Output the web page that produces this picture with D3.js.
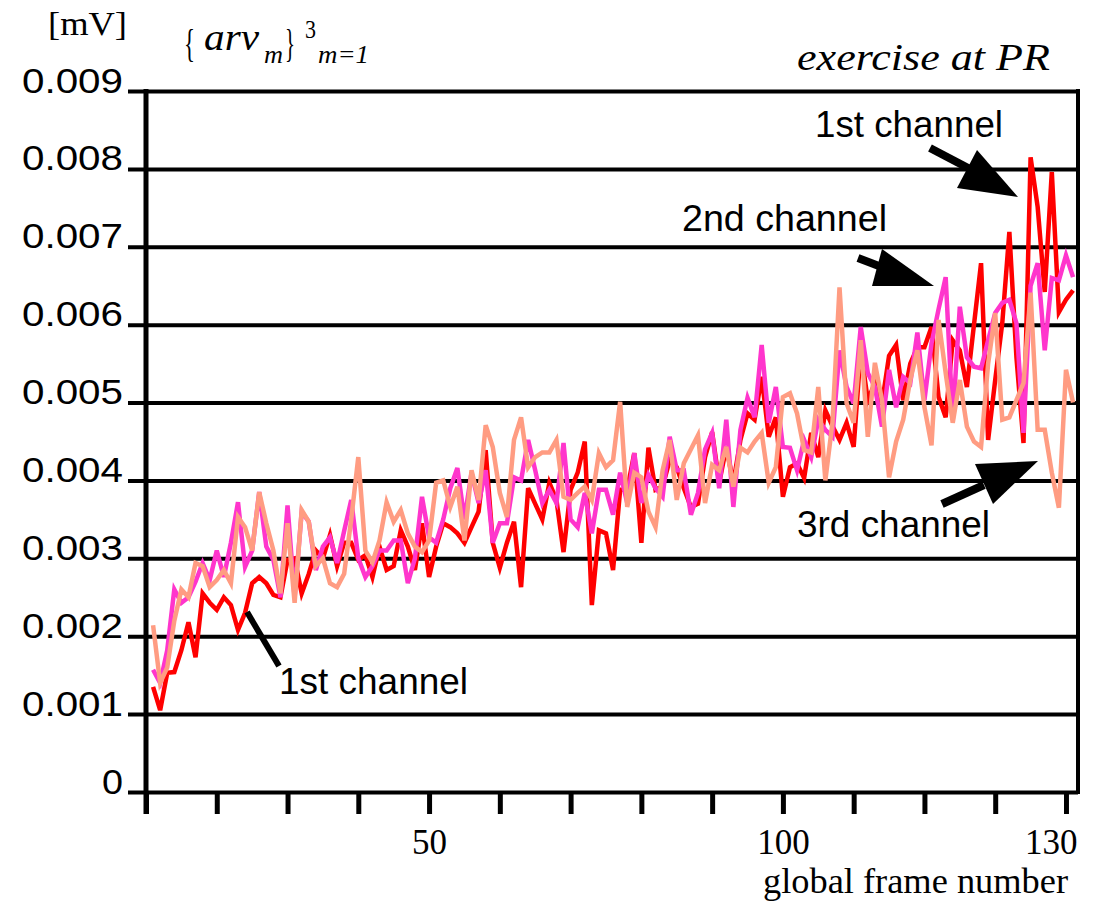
<!DOCTYPE html>
<html>
<head>
<meta charset="utf-8">
<script src="https://cdn.jsdelivr.net/npm/d3@7"></script>
<style>
  body { margin: 0; background: #fff; }
  svg { display: block; }
</style>
</head>
<body>
<div id="chart"></div>
<script>
/* ---------------------------------------------------------------
   data : average rectified value per channel, frames 11..141
---------------------------------------------------------------- */
const frames = d3.range(11, 142)

const ch1 = [
  0.00135, 0.00105, 0.00153, 0.00154, 0.00182, 0.00218, 0.00173, 0.00255, 0.00243, 0.00234,
  0.00250, 0.00240, 0.00208, 0.00230, 0.00268, 0.00276, 0.00268, 0.00253, 0.00250, 0.00298,
  0.00300, 0.00255, 0.00280, 0.00310, 0.00300, 0.00330, 0.00290, 0.00320, 0.00320, 0.00298,
  0.00304, 0.00276, 0.00315, 0.00285, 0.00290, 0.00336, 0.00315, 0.00285, 0.00345, 0.00276,
  0.00315, 0.00345, 0.00340, 0.00332, 0.00320, 0.00340, 0.00360, 0.00439, 0.00320, 0.00288,
  0.00320, 0.00347, 0.00263, 0.00390, 0.00370, 0.00350, 0.00397, 0.00375, 0.00308, 0.00388,
  0.00410, 0.00450, 0.00240, 0.00336, 0.00332, 0.00285, 0.00388, 0.00388, 0.00435, 0.00320,
  0.00442, 0.00388, 0.00392, 0.00426, 0.00417, 0.00390, 0.00366, 0.00370, 0.00430, 0.00462,
  0.00397, 0.00443, 0.00397, 0.00452, 0.00486, 0.00478, 0.00533, 0.00456, 0.00481, 0.00379,
  0.00417, 0.00422, 0.00403, 0.00461, 0.00430, 0.00490, 0.00470, 0.00452, 0.00474, 0.00443,
  0.00567, 0.00503, 0.00525, 0.00499, 0.00560, 0.00574, 0.00503, 0.00550, 0.00571, 0.00571,
  0.00597, 0.00507, 0.00481, 0.00580, 0.00567, 0.00520, 0.00600, 0.00679, 0.00452, 0.00529,
  0.00602, 0.00719, 0.00558, 0.00448, 0.00815, 0.00751, 0.00642, 0.00796, 0.00616, 0.00632,
  0.00644
]

const ch2 = [
  0.00157, 0.00140, 0.00182, 0.00260, 0.00243, 0.00250, 0.00270, 0.00294, 0.00272, 0.00310,
  0.00276, 0.00320, 0.00372, 0.00289, 0.00310, 0.00385, 0.00315, 0.00298, 0.00250, 0.00368,
  0.00250, 0.00360, 0.00347, 0.00285, 0.00315, 0.00327, 0.00294, 0.00335, 0.00375, 0.00300,
  0.00276, 0.00290, 0.00310, 0.00310, 0.00323, 0.00323, 0.00268, 0.00300, 0.00379, 0.00327,
  0.00320, 0.00350, 0.00390, 0.00416, 0.00350, 0.00410, 0.00371, 0.00413, 0.00320, 0.00345,
  0.00345, 0.00404, 0.00400, 0.00452, 0.00413, 0.00371, 0.00388, 0.00371, 0.00448, 0.00350,
  0.00340, 0.00384, 0.00332, 0.00388, 0.00388, 0.00356, 0.00410, 0.00371, 0.00435, 0.00371,
  0.00407, 0.00390, 0.00379, 0.00456, 0.00413, 0.00413, 0.00356, 0.00384, 0.00440, 0.00461,
  0.00390, 0.00478, 0.00366, 0.00465, 0.00506, 0.00481, 0.00574, 0.00474, 0.00520, 0.00443,
  0.00442, 0.00413, 0.00452, 0.00430, 0.00478, 0.00465, 0.00456, 0.00567, 0.00520, 0.00499,
  0.00597, 0.00538, 0.00520, 0.00469, 0.00542, 0.00494, 0.00533, 0.00525, 0.00590, 0.00503,
  0.00576, 0.00620, 0.00661, 0.00478, 0.00623, 0.00558, 0.00546, 0.00544, 0.00580, 0.00615,
  0.00628, 0.00632, 0.00602, 0.00461, 0.00650, 0.00679, 0.00567, 0.00660, 0.00657, 0.00689,
  0.00661
]

const ch3 = [
  0.00214, 0.00140, 0.00160, 0.00220, 0.00260, 0.00250, 0.00294, 0.00290, 0.00263, 0.00272,
  0.00285, 0.00268, 0.00353, 0.00340, 0.00310, 0.00385, 0.00345, 0.00310, 0.00255, 0.00345,
  0.00243, 0.00362, 0.00347, 0.00290, 0.00300, 0.00268, 0.00263, 0.00280, 0.00350, 0.00430,
  0.00310, 0.00295, 0.00323, 0.00372, 0.00347, 0.00362, 0.00332, 0.00315, 0.00308, 0.00323,
  0.00397, 0.00400, 0.00366, 0.00392, 0.00323, 0.00413, 0.00375, 0.00471, 0.00443, 0.00384,
  0.00353, 0.00452, 0.00481, 0.00417, 0.00430, 0.00436, 0.00436, 0.00452, 0.00379, 0.00375,
  0.00384, 0.00392, 0.00375, 0.00435, 0.00417, 0.00426, 0.00501, 0.00366, 0.00410, 0.00404,
  0.00360, 0.00340, 0.00413, 0.00452, 0.00375, 0.00422, 0.00440, 0.00458, 0.00371, 0.00420,
  0.00413, 0.00443, 0.00392, 0.00442, 0.00436, 0.00450, 0.00461, 0.00397, 0.00417, 0.00507,
  0.00512, 0.00486, 0.00439, 0.00436, 0.00520, 0.00400, 0.00474, 0.00648, 0.00499, 0.00474,
  0.00580, 0.00456, 0.00551, 0.00503, 0.00404, 0.00450, 0.00478, 0.00529, 0.00567, 0.00494,
  0.00445, 0.00606, 0.00538, 0.00474, 0.00529, 0.00469, 0.00450, 0.00443, 0.00550, 0.00615,
  0.00478, 0.00481, 0.00503, 0.00525, 0.00641, 0.00465, 0.00465, 0.00410, 0.00365, 0.00542,
  0.00500
]

const series_colors = ['#ff0000', '#ff35cc', '#ff9c82']

const y_ticks = [0, 0.001, 0.002, 0.003, 0.004, 0.005, 0.006, 0.007, 0.008, 0.009]
const x_ticks = [10, 20, 30, 40, 50, 60, 70, 80, 90, 100, 110, 120, 130, 140]
const x_tick_labels = ['', '', '', '', '50', '', '', '', '', '100', '', '', '', '130']

/* ---------------------------------------------------------------
   layout
---------------------------------------------------------------- */
const W = 1095, H = 911
const plot = { left: 146, right: 1078, top: 91, bottom: 792 }
const SANS = '"Liberation Sans", Arial, Helvetica, sans-serif'
const SERIF = '"Liberation Serif", "Times New Roman", Times, serif'

let svg = d3.select('#chart').append('svg')
    .attr('width', W)
    .attr('height', H)

let x = d3.scaleLinear().domain([10, 141.7]).range([plot.left, plot.right])
let y = d3.scaleLinear().domain([0, 0.009]).range([plot.bottom, plot.top])

// horizontal grid + y labels (ticks poke out to the left of the axis)
let y_axis = d3.axisLeft(y)
    .tickValues(y_ticks)
    .tickSize(-(plot.right - 128))
    .tickPadding(5)
    .tickFormat(d => d === 0 ? '0' : d3.format('.3f')(d))

let gy = svg.append('g')
    .attr('transform', 'translate(128,0)')
    .call(y_axis)
gy.select('.domain').remove()
gy.selectAll('.tick line')
    .attr('stroke', '#000')
    .attr('stroke-width', 4)
// labels in the original are a wide face: stretch them horizontally
gy.selectAll('.tick text')
    .attr('font-family', SANS)
    .attr('font-size', 35)
    .attr('fill', '#000')
    .attr('dy', 0)
    .attr('y', 1)
    .attr('textLength', d => d === 0 ? 21 : 101)
    .attr('lengthAdjust', 'spacingAndGlyphs')

// bottom ticks
let x_axis = d3.axisBottom(x)
    .tickValues(x_ticks)
    .tickSize(22)
    .tickSizeOuter(0)
    .tickFormat((d, i) => x_tick_labels[i])

let gx = svg.append('g')
    .attr('transform', 'translate(0,' + plot.bottom + ')')
    .call(x_axis)
gx.select('.domain').remove()
gx.selectAll('.tick line')
    .attr('stroke', '#000')
    .attr('stroke-width', 5)
gx.selectAll('.tick text')
    .attr('font-family', SERIF)
    .attr('font-size', 35)
    .attr('fill', '#000')
    .attr('dy', 0)
    .attr('y', 62)
// last label is pushed in so it ends at the frame edge
gx.selectAll('.tick text')
    .filter((d, i) => i === x_ticks.length - 1)
    .attr('text-anchor', 'end')
    .attr('x', plot.right - x(140) - 1)

// frame: left axis (runs down to tick length) and right edge
svg.append('line')
    .attr('x1', plot.left).attr('x2', plot.left)
    .attr('y1', plot.top - 2).attr('y2', plot.bottom + 22)
    .attr('stroke', '#000').attr('stroke-width', 5)
svg.append('line')
    .attr('x1', plot.right).attr('x2', plot.right)
    .attr('y1', plot.top - 2).attr('y2', plot.bottom + 2)
    .attr('stroke', '#000').attr('stroke-width', 4)

// the three channel traces
let line = d3.line()
    .x((d, i) => x(frames[i]))
    .y(d => y(d))

let all_series = [ch1, ch2, ch3]
svg.append('g')
    .selectAll('path')
    .data(all_series)
    .join('path')
    .attr('d', d => line(d))
    .attr('fill', 'none')
    .attr('stroke', (d, i) => series_colors[i])
    .attr('stroke-width', 4.5)
    .attr('stroke-linejoin', 'miter')

/* ---------------------------------------------------------------
   annotations
---------------------------------------------------------------- */
function arrow(tail, neck, head) {
    svg.append('line')
        .attr('x1', tail[0]).attr('y1', tail[1])
        .attr('x2', neck[0]).attr('y2', neck[1])
        .attr('stroke', '#000').attr('stroke-width', 8)
    svg.append('polygon')
        .attr('points', head.map(p => p.join(',')).join(' '))
        .attr('fill', '#000')
}

arrow([930, 148], [970, 169], [[977, 150], [957, 188], [1018, 197]])
arrow([858, 258], [892, 271], [[882, 249], [872, 286], [934, 286]])
arrow([942, 504], [984, 485], [[975, 464], [993, 504], [1038, 461]])

svg.append('line')
    .attr('x1', 247).attr('y1', 612)
    .attr('x2', 279).attr('y2', 666)
    .attr('stroke', '#000').attr('stroke-width', 6)

function label(txt, x0, y0, len, size, opts = {}) {
    let el = svg.append('text')
        .attr('x', x0).attr('y', y0)
        .attr('font-family', opts.family || SANS)
        .attr('font-size', size)
        .attr('font-style', opts.italic ? 'italic' : 'normal')
        .text(txt)
    if (len) {
        el.attr('textLength', len).attr('lengthAdjust', 'spacingAndGlyphs')
    }
    return el
}
label('1st channel', 815, 137, 188, 36)
label('2nd channel', 682, 231, 205, 36)
label('3rd channel', 797, 537, 193, 36)
label('1st channel', 279, 694, 189, 36)

// titles
label('[mV]', 48, 35, 79, 33, { family: SERIF })

// {arv_m}^3_(m=1), set piece by piece
label('{', 184, 57, 11, 40, { family: SERIF })
label('arv', 204, 50, 55, 38, { family: SERIF, italic: true })
label('m', 264, 63, 19, 26, { family: SERIF, italic: true })
label('}', 285, 57, 10, 40, { family: SERIF })
label('3', 305, 38, 11, 26, { family: SERIF })
label('m=1', 318, 63, 51, 26, { family: SERIF, italic: true })

label('exercise at PR', 797, 70, 253, 38, { family: SERIF, italic: true })
label('global frame number', 763, 893, 305, 36, { family: SERIF })
</script>
</body>
</html>
